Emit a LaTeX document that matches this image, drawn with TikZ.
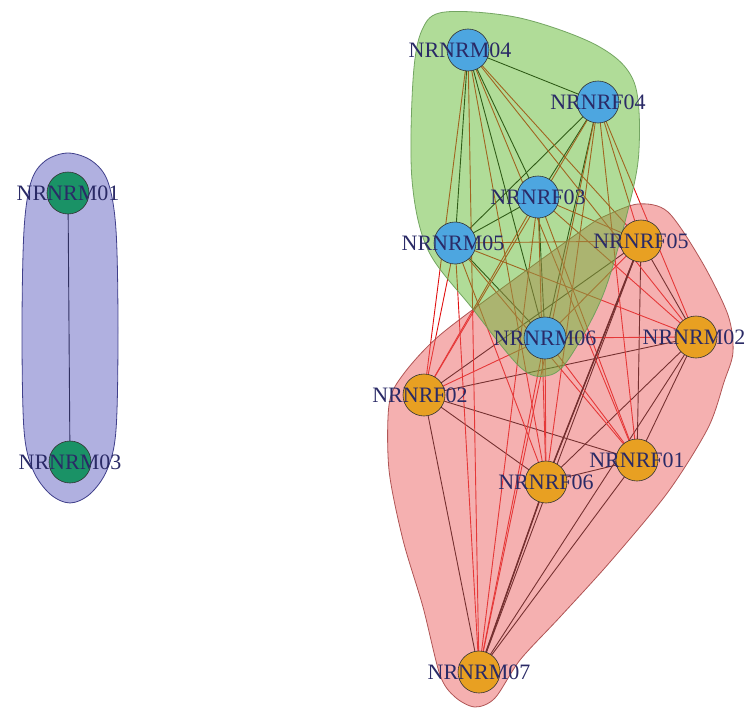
\documentclass[tikz,border=0pt]{standalone}
\usepackage{fontspec}
\setmainfont{Liberation Serif}
\definecolor{nblue}{HTML}{4DA6E0}
\definecolor{norange}{HTML}{E8A022}
\definecolor{ngreen}{HTML}{1A9266}
\definecolor{lblcol}{HTML}{2A2A66}
\definecolor{hpurple}{HTML}{6161C1}
\definecolor{hgreen}{HTML}{61B931}
\definecolor{hred}{HTML}{EB6161}
\definecolor{bpurple}{HTML}{303080}
\definecolor{bgreen}{HTML}{6A9E58}
\definecolor{bred}{HTML}{A84848}
\definecolor{redge}{HTML}{E01010}
\tikzset{
  vnode/.style={circle,draw=black!80,line width=0.6pt,minimum size=42pt,inner sep=0pt},
  bnode/.style={vnode,fill=nblue},
  onode/.style={vnode,fill=norange},
  gnode/.style={vnode,fill=ngreen},
  lbl/.style={font=\fontsize{22}{22}\selectfont,text=lblcol,inner sep=0pt},
  inedge/.style={draw=black,line width=0.9pt},
  xedge/.style={draw=redge,line width=0.9pt},
  hull/.style={line width=0.8pt,fill opacity=0.5,draw opacity=0.9},
}
\begin{document}
\begin{tikzpicture}[x=1pt,y=-1pt]
\useasboundingbox (0,0) rectangle (749,709);
% node positions
\coordinate (pM01) at (68,193);
\coordinate (pM03) at (70,462);
\coordinate (pM04) at (468,50);
\coordinate (pF04) at (598,102);
\coordinate (pF03) at (538,197);
\coordinate (pM05) at (455,243);
\coordinate (pF05) at (641,241);
\coordinate (pM06) at (545,338);
\coordinate (pM02) at (696,337);
\coordinate (pF02) at (424,395);
\coordinate (pF01) at (637,460);
\coordinate (pF06) at (546,482);
\coordinate (pM07) at (479,672);
% edges
\draw[inedge] (pM01) -- (pM03);
\foreach \a/\b in {M04/F04,M04/F03,M04/M05,M04/M06,F04/F03,F04/M05,F04/M06,F03/M05,F03/M06,M05/M06}
  \draw[inedge] (p\a) -- (p\b);
\foreach \a/\b in {F05/M02,F05/F02,F05/F01,F05/F06,F05/M07,M02/F02,M02/F01,M02/F06,M02/M07,F02/F01,F02/F06,F02/M07,F01/F06,F01/M07,F06/M07}
  \draw[inedge] (p\a) -- (p\b);
\foreach \a in {M04,F04,F03,M05,M06}
  \foreach \b in {F05,M02,F02,F01,F06,M07}
    \draw[xedge] (p\a) -- (p\b);
\draw[inedge,line width=1.5pt] (pF06) -- (pM07);
\draw[inedge,line width=1.5pt] (pF05) -- (pF06);
% hulls
\draw[hull,fill=hred,draw=bred] plot[smooth cycle,tension=0.5] coordinates {
  (605,216) (638,204) (668,212) (702,262) (728,315) (733,352) (724,382) (708,428)
  (668,492) (610,562) (560,617) (520,660) (495,698) (475,707) (455,697) (440,675)
  (423,607) (403,540) (389,470) (389,405) (402,376) (440,335) (520,275) (588,226)};
\draw[hull,fill=hgreen,draw=bgreen] plot[smooth cycle,tension=0.55] coordinates {
  (445,12) (520,18) (598,46) (634,82) (639,150) (628,210) (603,295) (568,360)
  (546,376) (520,367) (472,308) (428,250) (412,180) (413,80) (422,30)};
\draw[hull,fill=hpurple,draw=bpurple] plot[smooth cycle,tension=0.55] coordinates {
  (68,153) (92,161) (108,182) (116,230) (118,330) (116,430) (107,470) (90,494)
  (70,503) (50,494) (33,470) (24,430) (22,330) (24,230) (31,182) (45,161)};
% nodes
\node[gnode] (M01) at (pM01) {};
\node[gnode] (M03) at (pM03) {};
\node[bnode] (M04) at (pM04) {};
\node[bnode] (F04) at (pF04) {};
\node[bnode] (F03) at (pF03) {};
\node[bnode] (M05) at (pM05) {};
\node[bnode] (M06) at (pM06) {};
\node[onode] (F05) at (pF05) {};
\node[onode] (M02) at (pM02) {};
\node[onode] (F02) at (pF02) {};
\node[onode] (F01) at (pF01) {};
\node[onode] (F06) at (pF06) {};
\node[onode] (M07) at (pM07) {};
% labels
\node[lbl] (tM01) at (M01) {NRNRM01};
\node[lbl] (tM03) at (M03) {NRNRM03};
\node[lbl] (tM04) at ([xshift=-8pt]M04) {NRNRM04};
\node[lbl] (tF04) at (F04) {NRNRF04};
\node[lbl] (tF03) at (F03) {NRNRF03};
\node[lbl] (tM05) at ([xshift=-2pt]M05) {NRNRM05};
\node[lbl] (tM06) at (M06) {NRNRM06};
\node[lbl] (tF05) at (F05) {NRNRF05};
\node[lbl] (tM02) at ([xshift=-2pt]M02) {NRNRM02};
\node[lbl] (tF02) at ([xshift=-4pt]F02) {NRNRF02};
\node[lbl] (tF01) at (F01) {NRNRF01};
\node[lbl] (tF06) at (F06) {NRNRF06};
\node[lbl] (tM07) at (M07) {NRNRM07};
\end{tikzpicture}
\end{document}
